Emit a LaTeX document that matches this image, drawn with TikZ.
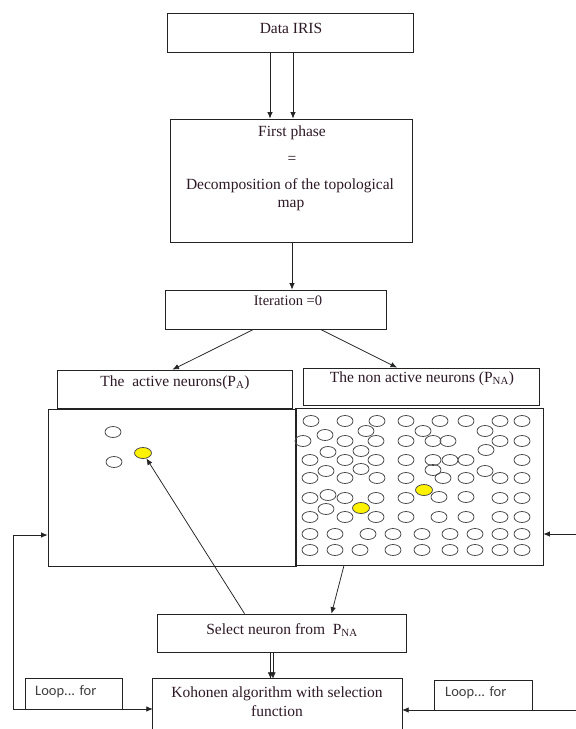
\documentclass[tikz,border=0pt]{standalone}
\usepackage{fontspec}
\setmainfont{Liberation Serif}
\newfontfamily\loopfont{Carlito}
\usetikzlibrary{arrows.meta,fit,shapes.geometric}
\definecolor{ink}{RGB}{45,25,38}
\definecolor{edge}{RGB}{35,35,35}
\definecolor{cellline}{RGB}{70,70,70}
\begin{document}
\begin{tikzpicture}[x=1pt,y=-1pt,
  box/.style={draw=edge, line width=0.8pt, inner sep=0pt},
  txt/.style={inner sep=0pt, text=ink, font=\fontsize{15.5}{17}\selectfont},
  looptxt/.style={inner sep=0pt, text=black!75, font=\loopfont\fontsize{14.5}{16}\selectfont},
  arr/.style={draw=edge, line width=0.75pt, -{Latex[length=6.5pt,width=5.5pt]}},
  cell/.style={draw=cellline, line width=0.75pt},
  hot/.style={draw=cellline, line width=0.75pt, fill=yellow, ellipse, inner sep=0pt, minimum width=17pt, minimum height=11pt}]
\useasboundingbox[fill=white] (0,0) rectangle (576,729);

% boxes
\node[box, fit={(167,13) (413,52)}] (iris) {};
\node[box, fit={(170,119) (412,242)}] (phase) {};
\node[box, fit={(165,290) (386,329)}] (iter) {};
\node[box, fit={(57,370) (292,408)}] (act) {};
\node[box, fit={(303,368) (539,405)}] (nact) {};
\node[box, fit={(48,409) (296,566)}] (pa) {};
\node[box, fit={(295,408) (543,565)}] (pna) {};
\node[box, fit={(157,614) (406,652)}] (sel) {};
\node[inner sep=0pt, fit={(153,679) (402,729)}] (koh) {};
\draw[draw=edge, line width=0.8pt] (koh.south west) |- (koh.north east) -- (koh.south east);
\node[box, fit={(25,678) (122,709)}] (loopl) {};
\node[box, fit={(434,680) (532,710)}] (loopr) {};

% texts
\node[txt] (tiris) at (291,28) {Data IRIS};
\node[txt] (tp1) at (292,133) {First phase};
\node[txt] (tp2) at (292,160) {=};
\node[txt] (tp3) at (290,186) {Decomposition of the topological};
\node[txt] (tp4) at (291,205) {map};
\node[txt, font=\fontsize{14.5}{16}\selectfont] (titer) at (288,301) {Iteration =0};
\node[txt] (tact) at (175,383) {The\ \ active neurons(P\textsubscript{A})};
\node[txt] (tnact) at (422,379) {The non active neurons (P\textsubscript{NA})};
\node[txt] (tsel) at (282,630) {Select neuron from\ \ P\textsubscript{NA}};
\node[txt] (tk1) at (277,694) {Kohonen algorithm with selection};
\node[txt] (tk2) at (277,711) {function};
\node[looptxt, anchor=west] (tl) at (35,692) {Loop... for};
\node[looptxt, anchor=west] (tr) at (445,693) {Loop... for};

% neurons, active part
\draw[cell] (113,432) ellipse [x radius=8pt, y radius=5.5pt];
\draw[cell] (114,462) ellipse [x radius=8pt, y radius=5.5pt];
\node[hot] (y1) at (143,453) {};

% neurons, non active part
\foreach \x/\y in {
 311/421,345/421,377/421,406/421,440/421,466/421,500/421,522/421,
 366/431,423/431,485/431,325/435,
 303/441,345/441,376/441,406/441,433/441,448/441,500/441,522/441,
 328/452,361/451,486/450,
 310/460,345/460,376/460,406/460,433/460,450/460,466/460,522/460,
 326/471,361/469,433/470,485/471,
 310/478,345/478,377/478,406/478,443/478,466/478,500/478,522/478,
 310/498,328/495,345/498,376/498,406/498,439/497,466/497,500/498,522/498,
 326/509,
 310/517,345/517,376/517,406/517,439/517,466/517,500/517,522/517,
 310/534,335/534,368/534,393/534,422/534,450/534,475/534,500/534,522/534,
 310/550,335/550,360/550,393/550,422/550,450/550,475/550,500/550,522/550}
 \draw[cell] (\x,\y) ellipse [x radius=8pt, y radius=5.5pt];
\node[hot] (y2) at (424,490) {};
\node[hot] (y3) at (361,508) {};

% connectors
\draw[arr] ([xshift=-20pt]iris.south) -- ([xshift=-20pt]iris.south |- phase.north);
\draw[arr] ([xshift=3pt]iris.south) -- ([xshift=3pt]iris.south |- phase.north);
\draw[arr] ([xshift=1pt]phase.south) -- ([xshift=1pt]phase.south |- iter.north);
\draw[arr] ([xshift=-22pt]iter.south) -- ([xshift=-2pt]act.north);
\draw[arr] ([xshift=45pt]iter.south) -- ([xshift=-24pt]nact.north);
\draw[arr] ([xshift=-75pt]pna.south) -- ([xshift=50pt]sel.north);
\draw[arr] ([xshift=-37pt]sel.north) -- (y1);
\draw[arr] ([xshift=-11pt]sel.south) -- ([xshift=-11pt]sel.south |- koh.north);
\draw[arr] ([xshift=-8.5pt]sel.south) -- ([xshift=-8.5pt]sel.south |- koh.north);

\coordinate (lb) at (13,709);
\coordinate (lt) at (13,535);
\draw[arr] (lb) -- (lb -| koh.west);
\draw[arr] (lb) -- (lt) -- (lt -| pa.west);
\coordinate (rb) at (577,710);
\coordinate (rt) at (577,534);
\draw[arr] (rb) -- (rb -| koh.east);
\draw[arr] (rt) -- (rt -| pna.east);
\end{tikzpicture}
\end{document}
